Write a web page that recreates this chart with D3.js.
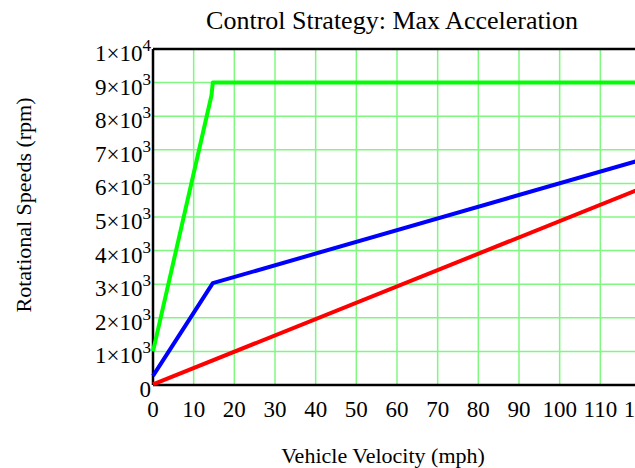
<!DOCTYPE html>
<html>
<head>
<meta charset="utf-8">
<script src="https://d3js.org/d3.v7.min.js"></script>
<style>
  body { margin: 0; background: #fff; }
  text { font-family: "Liberation Serif", "Times New Roman", serif; fill: #000; }
</style>
</head>
<body>
<script>
// values
var xTicks = [0, 10, 20, 30, 40, 50, 60, 70, 80, 90, 100, 110, 120];
var yTicks = [0, 1000, 2000, 3000, 4000, 5000, 6000, 7000, 8000, 9000, 10000];

var greenMph = [0, 14.4, 14.7, 120];
var greenRpm = [1000, 8630, 9000, 9000];

var blueMph = [0, 14.7, 120];
var blueRpm = [270, 3030, 6700];

var redMph = [0, 120];
var redRpm = [20, 5850];

var width = 635, height = 468;

var svg = d3.select("body").append("svg")
  .attr("width", width)
  .attr("height", height);

var x = d3.scaleLinear().domain([0, 120]).range([153, 641]);
var y = d3.scaleLinear().domain([0, 10000]).range([385, 49]);

// grid
svg.append("g").selectAll("line")
  .data(xTicks.slice(1))
  .enter().append("line")
  .attr("x1", function(d) { return x(d); })
  .attr("x2", function(d) { return x(d); })
  .attr("y1", y(0))
  .attr("y2", y(10000))
  .attr("stroke", "#80f880")
  .attr("stroke-width", 1.5);

svg.append("g").selectAll("line")
  .data(yTicks.slice(1, -1))
  .enter().append("line")
  .attr("x1", x(0))
  .attr("x2", x(120))
  .attr("y1", function(d) { return y(d); })
  .attr("y2", function(d) { return y(d); })
  .attr("stroke", "#80f880")
  .attr("stroke-width", 1.5);

// frame: bottom, left, top
svg.append("line").attr("x1", x(0)).attr("x2", x(120)).attr("y1", y(0)).attr("y2", y(0))
  .attr("stroke", "#000").attr("stroke-width", 2.5);
svg.append("line").attr("x1", x(0)).attr("x2", x(0)).attr("y1", y(0)).attr("y2", y(10000))
  .attr("stroke", "#000").attr("stroke-width", 2.5);
svg.append("line").attr("x1", x(0)).attr("x2", x(120)).attr("y1", y(10000)).attr("y2", y(10000))
  .attr("stroke", "#000").attr("stroke-width", 2.5);

// series
var line = d3.line()
  .x(function(d) { return x(d[0]); })
  .y(function(d) { return y(d[1]); });

function drawSeries(mph, rpm, color) {
  svg.append("path")
    .datum(d3.zip(mph, rpm))
    .attr("d", line)
    .attr("fill", "none")
    .attr("stroke", color)
    .attr("stroke-width", 4)
    .attr("stroke-linejoin", "round");
}
drawSeries(redMph, redRpm, "#ff0000");
drawSeries(blueMph, blueRpm, "#0000ff");
drawSeries(greenMph, greenRpm, "#00ff00");

// x tick labels
svg.append("g").selectAll("text")
  .data(xTicks)
  .enter().append("text")
  .attr("x", function(d) { return x(d); })
  .attr("y", 417)
  .attr("text-anchor", "middle")
  .style("font-size", "23px")
  .text(function(d) { return d; });

// y tick labels with superscript exponents
var yLabels = svg.append("g").selectAll("text")
  .data(yTicks)
  .enter().append("text")
  .attr("x", 151)
  .attr("y", function(d) { return y(d) + 12; })
  .attr("text-anchor", "end")
  .style("font-size", "23px");

yLabels.each(function(d) {
  var t = d3.select(this);
  if (d === 0) { t.text("0"); return; }
  var exp = Math.floor(Math.log10(d));
  var mant = d / Math.pow(10, exp);
  t.append("tspan").text(mant + "\u00d710");
  t.append("tspan").attr("dy", -10).style("font-size", "17px").text(exp);
});

// titles
svg.append("text")
  .attr("x", 392)
  .attr("y", 29)
  .attr("text-anchor", "middle")
  .style("font-size", "26px")
  .text("Control Strategy: Max Acceleration");

svg.append("text")
  .attr("x", 383)
  .attr("y", 463)
  .attr("text-anchor", "middle")
  .style("font-size", "22px")
  .text("Vehicle Velocity (mph)");

svg.append("text")
  .attr("transform", "translate(31,205) rotate(-90)")
  .attr("text-anchor", "middle")
  .style("font-size", "22px")
  .text("Rotational Speeds (rpm)");
</script>
</body>
</html>
